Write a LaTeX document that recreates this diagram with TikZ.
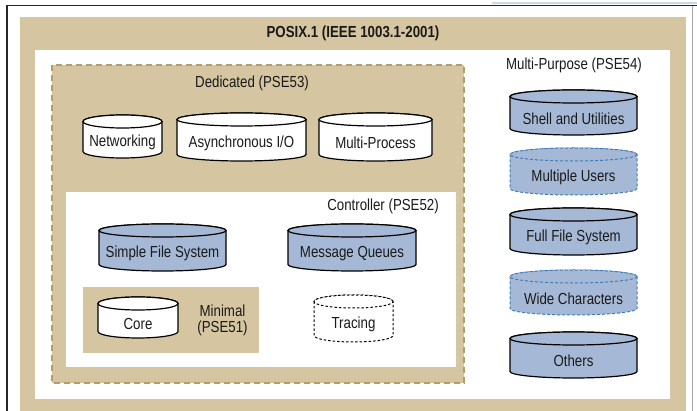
\documentclass[tikz,border=0pt]{standalone}
\usepackage{fontspec}
\setmainfont[FakeStretch=0.83]{Liberation Sans}
\definecolor{tanbg}{HTML}{D5C6A1}
\definecolor{dashtan}{HTML}{B39D6A}
\definecolor{cylblue}{HTML}{A5B9D6}
\definecolor{dashblue}{HTML}{3F7CB9}
\definecolor{txt}{HTML}{1A1A1A}
\definecolor{scanblue}{HTML}{C8D8E8}
\tikzset{
  cyltext/.style={inner sep=0pt, text=txt},
  lbl/.style={inner sep=0pt, text=txt},
  whitecyl/.style={fill=white, draw=black, line width=1.2pt},
  bluecyl/.style={fill=cylblue, draw=black, line width=1.2pt},
  dashbluecyl/.style={fill=cylblue, draw=dashblue, line width=1pt, dash pattern=on 3pt off 2pt},
  dashcyl/.style={fill=white, draw=black, line width=1pt, dash pattern=on 2.5pt off 2pt},
}
\newcommand\mycyl[7]{%
  \pgfmathsetmacro\cylrx{(#4-#2)/2}%
  \filldraw[#6] (#2,{#3+6.5}) -- (#2,{#5-6.5})
     arc[start angle=180,end angle=360,x radius=\cylrx pt,y radius=6.5pt]
     -- (#4,{#3+6.5})
     arc[start angle=0,end angle=180,x radius=\cylrx pt,y radius=6.5pt] -- cycle;
  \draw[#6] ({(#2+#4)/2},{#3+6.5}) ellipse[x radius=\cylrx pt,y radius=6.5pt];
  \node[cyltext] (#1) at ({(#2+#4)/2},{(#3+#5)/2+6}) {#7};
}
\begin{document}
\begin{tikzpicture}[x=1pt,y=-1pt,font=\fontsize{16}{16}\selectfont]
\useasboundingbox (0,0) rectangle (697,411);
\fill[white] (0,0) rectangle (697,411);
% scan frame
\draw[line width=2pt, scanblue] (492,3) -- (697,3);
\draw[line width=1.2pt, black!85] (7,411) -- (7,5.5) -- (697,5.5);
\draw[line width=0.8pt, black!35] (692,6) -- (692,411);
% POSIX.1 outer
\fill[tanbg] (20,17.5) rectangle (686,411);
\fill[white] (35,50) rectangle (670,399);
% Dedicated
\filldraw[fill=tanbg, draw=dashtan, line width=1.3pt, dash pattern=on 6pt off 4pt] (52,65) rectangle (464,383);
% Controller
\fill[white] (66,192) rectangle (456,367);
% Minimal
\fill[tanbg] (83,287) rectangle (259,353);

\node[lbl, font=\fontsize{16}{16}\selectfont\bfseries] (title) at (353,33) {POSIX.1 (IEEE 1003.1-2001)};
\node[lbl] (multi) at (574,65) {Multi-Purpose (PSE54)};
\node[lbl] (ded) at (252,83) {Dedicated (PSE53)};
\node[lbl, anchor=east] (ctrl) at (439,206) {Controller (PSE52)};
\node[lbl, align=center] (minimal) at (222.5,320) {Minimal\\(PSE51)};

\mycyl{net}{83}{115}{162}{158}{whitecyl}{Networking}
\mycyl{async}{177}{113}{306}{161}{whitecyl}{Asynchronous I/O}
\mycyl{mproc}{319}{113}{432}{161}{whitecyl}{Multi-Process}
\mycyl{sfs}{99}{224}{226}{271}{bluecyl}{Simple File System}
\mycyl{mq}{288}{224}{416}{271}{bluecyl}{Message Queues}
\mycyl{core}{98}{297}{178}{338}{whitecyl}{Core}
\mycyl{trac}{314}{295}{393}{342}{dashcyl}{Tracing}
\mycyl{shell}{510}{90}{637}{135}{bluecyl}{Shell and Utilities}
\mycyl{musers}{510}{148}{637}{195}{dashbluecyl}{Multiple Users}
\mycyl{ffs}{510}{208}{637}{255}{bluecyl}{Full File System}
\mycyl{wide}{510}{270}{637}{315}{dashbluecyl}{Wide Characters}
\mycyl{others}{510}{332}{637}{378}{bluecyl}{Others}
\end{tikzpicture}
\end{document}
